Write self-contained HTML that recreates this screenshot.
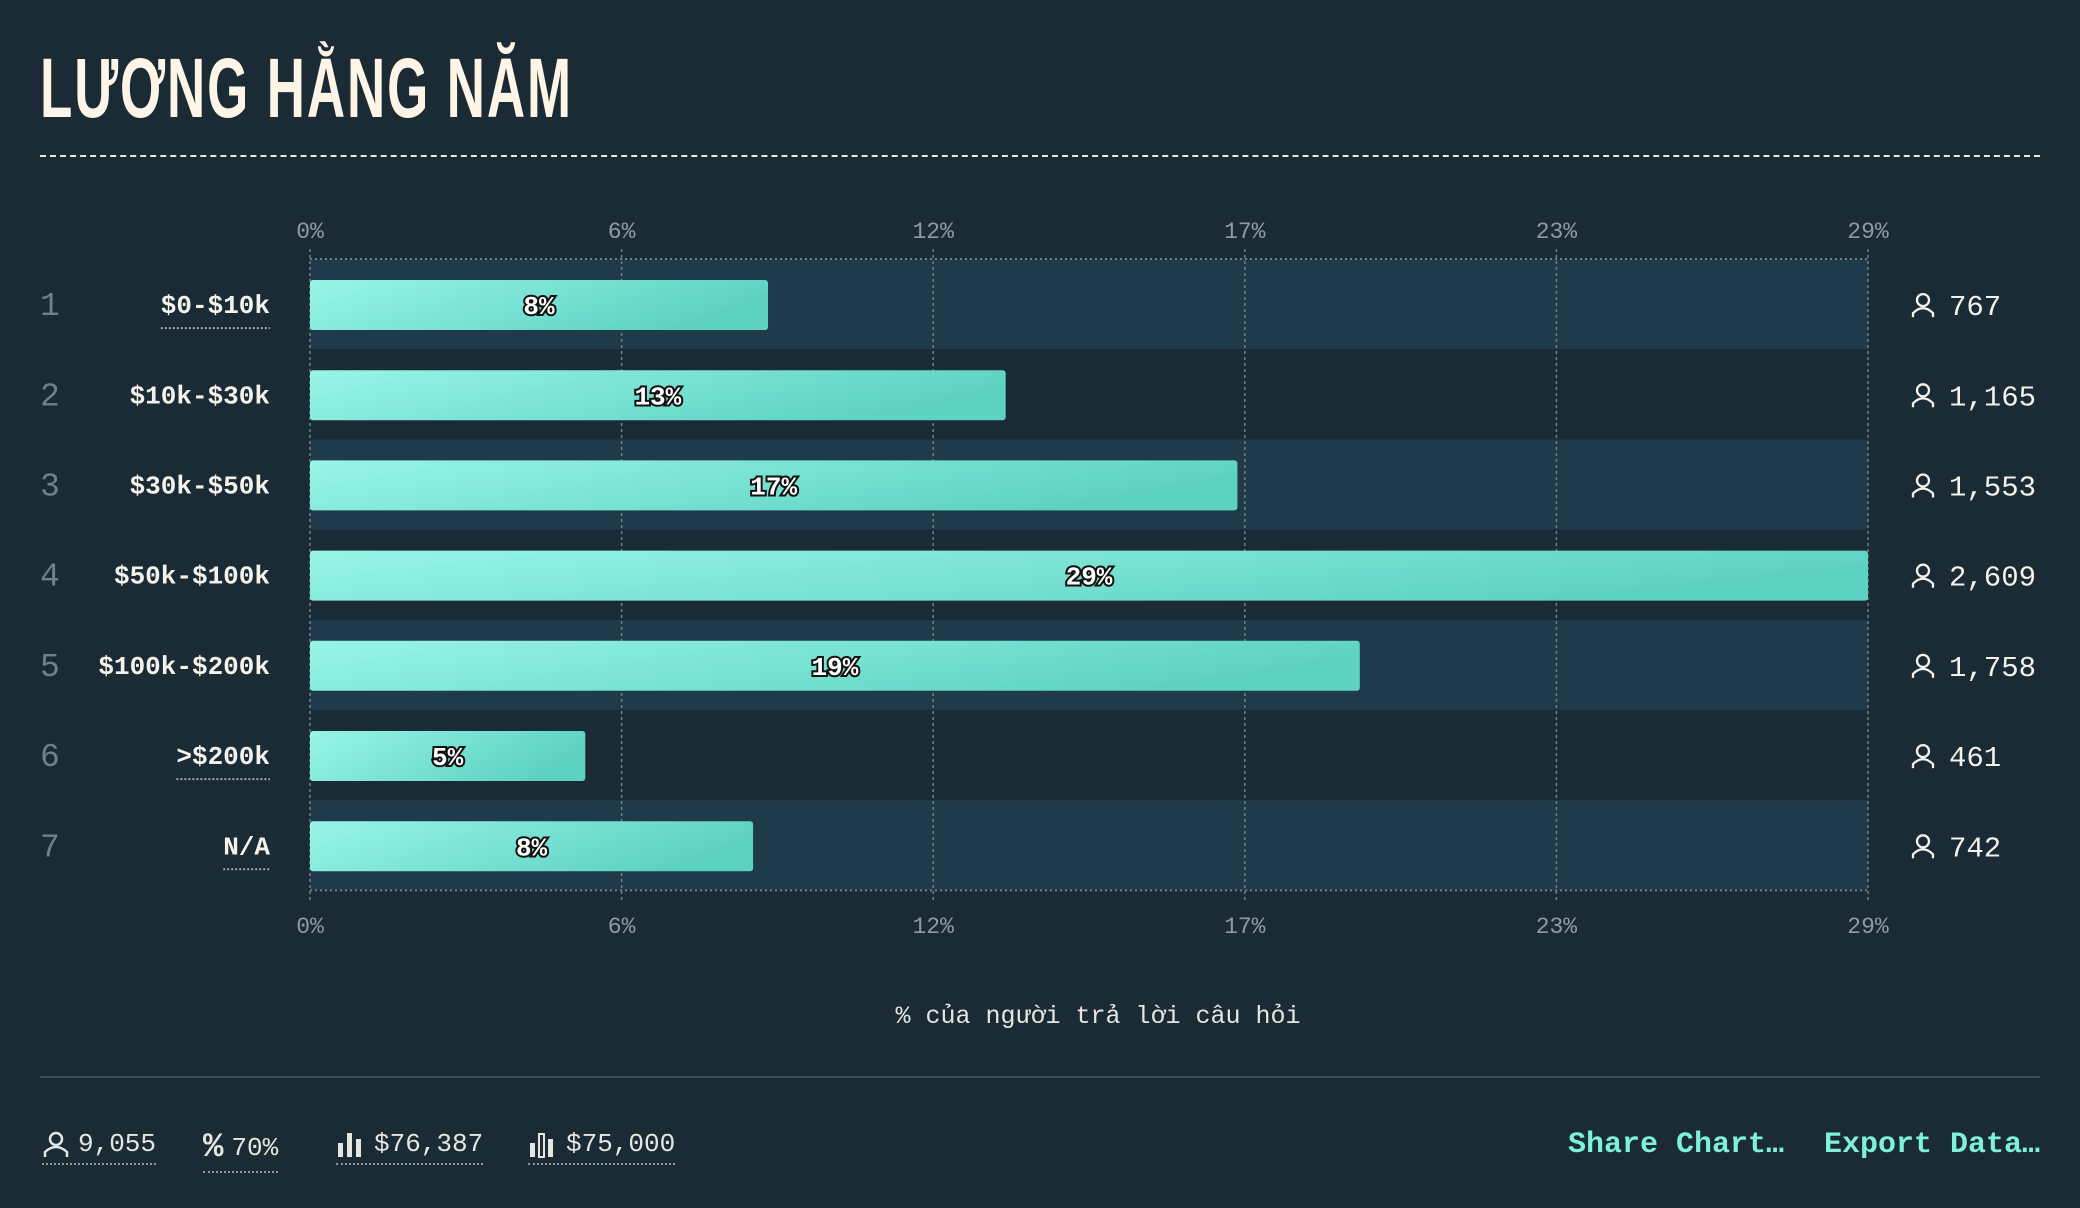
<!DOCTYPE html>
<html><head><meta charset="utf-8">
<style>
html,body{margin:0;padding:0;background:#1a2b36;}
body{width:2080px;height:1208px;position:relative;overflow:hidden;font-family:"Liberation Mono","DejaVu Sans Mono",monospace;}
#title{position:absolute;left:40px;top:38px;font-family:"Liberation Sans","DejaVu Sans",sans-serif;font-weight:bold;font-size:84px;color:#fff5e6;transform:scaleX(0.63);transform-origin:left top;white-space:nowrap;letter-spacing:3px;line-height:100px;}
#rule{position:absolute;left:40px;top:155px;width:2000px;border-top:2px dashed #e8e8e0;}
#foot-rule{position:absolute;left:40px;top:1076px;width:2000px;height:2px;background:#3d505a;}
.stat{position:absolute;top:1129px;color:#e6e6e0;font-size:26px;border-bottom:2px dotted #8a9aa0;padding-bottom:4px;display:flex;align-items:center;gap:8px;}
.act{position:absolute;top:1128px;color:#7ef0dc;font-size:30px;font-weight:bold;}
svg{position:absolute;left:0;top:0;}
</style></head><body>
<div id="title">LƯƠNG HẰNG NĂM</div>
<div id="rule"></div>
<svg id="chart" width="2080" height="1208"></svg>
<div id="foot-rule"></div>
<div class="stat" style="left:42px"><svg style="position:static" width="28" height="28" viewBox="0 0 28 28"><circle cx="14" cy="9" r="6" fill="none" stroke="#e6e6e0" stroke-width="2.5"/><path d="M3 27 V22 Q14 12 25 22 V27" fill="none" stroke="#e6e6e0" stroke-width="2.5"/></svg>9,055</div>
<div class="stat" style="left:203px"><span style="font-size:34px;font-weight:bold">%</span>70%</div>
<div class="stat" style="left:336px"><svg style="position:static" width="30" height="30" viewBox="0 0 30 30"><rect x="2" y="14" width="5" height="14" fill="#e6e6e0"/><rect x="11" y="4" width="5" height="24" fill="#e6e6e0"/><rect x="20" y="10" width="5" height="18" fill="#e6e6e0"/></svg>$76,387</div>
<div class="stat" style="left:528px"><svg style="position:static" width="30" height="30" viewBox="0 0 30 30"><rect x="2" y="14" width="5" height="14" fill="#e6e6e0"/><rect x="11" y="5" width="5" height="23" fill="none" stroke="#e6e6e0" stroke-width="2"/><rect x="20" y="10" width="5" height="18" fill="#e6e6e0"/></svg>$75,000</div>
<div class="act" style="left:1568px">Share Chart…</div>
<div class="act" style="left:1824px">Export Data…</div>
<script>
const categories=["$0-$10k","$10k-$30k","$30k-$50k","$50k-$100k","$100k-$200k",">$200k","N/A"];
const counts=[767,1165,1553,2609,1758,461,742];
const total=9055;
const underlined=[true,false,false,false,false,true,true];
const NS="http://www.w3.org/2000/svg";
const svg=document.getElementById('chart');
const X0=310,X1=1868,TOP=259,ROW=90.2;
const pct=counts.map(c=>c/total*100);
const maxP=Math.max(...pct);
const x=v=>X0+(v/maxP)*(X1-X0);
const yRow=i=>TOP+i*ROW;
function el(t,a,txt){const e=document.createElementNS(NS,t);for(const k in a)e.setAttribute(k,a[k]);if(txt!==undefined)e.textContent=txt;svg.appendChild(e);return e;}
const defs=el('defs',{});
defs.innerHTML='<linearGradient id="g" x1="0" x2="1" y1="0" y2="0.3"><stop offset="0" stop-color="#98f5e7"/><stop offset="1" stop-color="#5ed2c2"/></linearGradient>';
categories.forEach((c,i)=>{if(i%2===0){const b=el('rect',{x:X0,y:yRow(i),width:X1-X0,height:ROW,fill:'#1f3a4b'});

}});
el('line',{x1:X0,x2:X1,y1:TOP,y2:TOP,stroke:'#6d7f88','stroke-width':2,'stroke-dasharray':'2 3'});
el('line',{x1:X0,x2:X1,y1:yRow(7),y2:yRow(7),stroke:'#6d7f88','stroke-width':2,'stroke-dasharray':'2 3'});
for(let k=0;k<=5;k++){const v=maxP*k/5;const xx=x(v);
const gl=el('line',{x1:xx,x2:xx,y1:TOP-10,y2:yRow(7)+10,stroke:'#6d7f88','stroke-width':1.5,'stroke-dasharray':'3 3'});


[230,925].forEach(yy=>{const t=el('text',{x:xx,y:yy+8,fill:'#8d9ca3','font-size':23,'text-anchor':'middle'},Math.round(v)+'%');

});}
categories.forEach((c,i)=>{const y=yRow(i);const cy=y+ROW/2;
const n=el('text',{x:40,y:cy+11,fill:'#6f8088','font-size':33},String(i+1));


const l=el('text',{x:270,y:cy+9,fill:'#f4f2ea','font-size':26,'font-weight':'bold','text-anchor':'end'},c);


if(underlined[i]){const w=c.length*15.6;el('line',{x1:270-w,x2:270,y1:cy+24,y2:cy+24,stroke:'#a0aaa8','stroke-width':2,'stroke-dasharray':'2 2'});}
const bw=x(pct[i])-X0;
const b=el('rect',{x:X0,y:y+21,width:bw,height:50,rx:3,fill:'url(#g)'});


const v=el('text',{x:X0+bw/2,y:cy+10,fill:'#ffffff',stroke:'#111','stroke-width':4,'paint-order':'stroke','font-size':26,'font-weight':'bold','text-anchor':'middle'},Math.round(pct[i])+'%');


const ic=el('g',{transform:`translate(1910,${cy-12})`});
ic.innerHTML='<circle cx="13" cy="8" r="6" fill="none" stroke="#f4f2ea" stroke-width="2.3"/><path d="M3 25 V21 Q13 11 23 21 V25" fill="none" stroke="#f4f2ea" stroke-width="2.3"/>';
const ct=el('text',{x:1949,y:cy+11,fill:'#f4f2ea','font-size':29},counts[i].toLocaleString('en-US'));


});
const xt=el('text',{x:1098,y:1023,fill:'#e6e6e0','font-size':25,'text-anchor':'middle'},'% của người trả lời câu hỏi');


</script>
</body></html>
